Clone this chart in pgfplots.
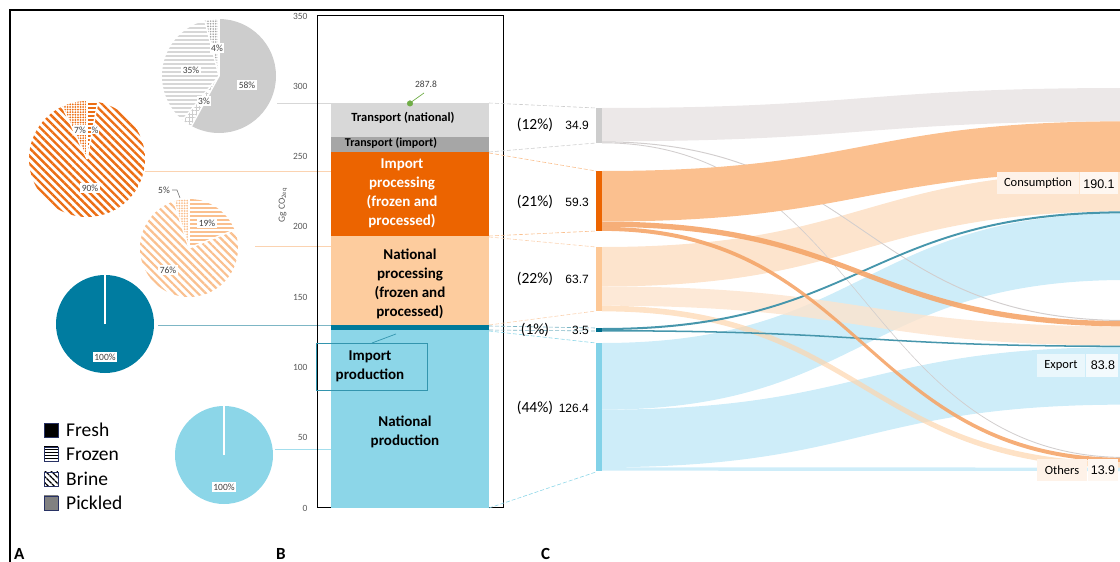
\documentclass[border=0pt]{standalone}
\usepackage{fontspec}
\setmainfont{Carlito}
\newfontfamily\arialf{Liberation Sans}
\usepackage{pgfplots}
\pgfplotsset{compat=1.18}
\usetikzlibrary{patterns,patterns.meta}

\definecolor{tickgrey}{RGB}{89,89,89}
\definecolor{labgrey}{RGB}{64,64,64}
\definecolor{cNPr}{RGB}{140,214,232}
\definecolor{cIPr}{RGB}{0,122,154}
\definecolor{cNP}{RGB}{253,204,158}
\definecolor{cIP}{RGB}{236,100,0}
\definecolor{cTI}{RGB}{166,166,166}
\definecolor{cTN}{RGB}{216,216,216}
\definecolor{dotgreen}{RGB}{112,173,71}
\definecolor{pGrey}{RGB}{205,205,205}
\definecolor{pGreyL}{RGB}{215,215,215}
\definecolor{pOr}{RGB}{236,110,20}
\definecolor{pLor}{RGB}{250,192,143}
\definecolor{pTeal}{RGB}{0,124,160}
\definecolor{pBlue}{RGB}{140,214,232}
\definecolor{fT}{RGB}{236,232,232}
\definecolor{fTl}{RGB}{210,206,206}
\definecolor{fIP}{RGB}{251,192,143}
\definecolor{fIPl}{RGB}{245,165,105}
\definecolor{fNP}{RGB}{253,228,205}
\definecolor{fIPr}{RGB}{70,150,172}
\definecolor{fNPr}{RGB}{206,237,249}
\definecolor{nT}{RGB}{205,205,205}
\definecolor{nIP}{RGB}{236,100,0}
\definecolor{nNP}{RGB}{253,200,150}
\definecolor{nIPr}{RGB}{0,110,140}
\definecolor{nNPr}{RGB}{130,210,232}
\definecolor{legb}{RGB}{40,50,100}
\definecolor{boxOr}{RGB}{254,242,232}
\definecolor{boxBl}{RGB}{234,247,252}

% wide-tile horizontal line patterns (no seams)
\pgfdeclarepatternformonly{hlinesA}{\pgfqpoint{-2pt}{0pt}}{\pgfqpoint{42pt}{4pt}}{\pgfqpoint{40pt}{4pt}}%
 {\pgfsetlinewidth{2pt}\pgfpathmoveto{\pgfqpoint{-2pt}{2pt}}\pgfpathlineto{\pgfqpoint{42pt}{2pt}}\pgfusepath{stroke}}
\pgfdeclarepatternformonly{hlinesB}{\pgfqpoint{-2pt}{0pt}}{\pgfqpoint{42pt}{3pt}}{\pgfqpoint{40pt}{3pt}}%
 {\pgfsetlinewidth{1.5pt}\pgfpathmoveto{\pgfqpoint{-2pt}{1.5pt}}\pgfpathlineto{\pgfqpoint{42pt}{1.5pt}}\pgfusepath{stroke}}

\newcommand\fs[1]{\fontsize{#1}{#1}\selectfont}
\tikzset{plab/.style={fill=white, inner sep=1.5pt, font=\fs{9.5}, text=labgrey}}

% pie slice: cx cy r startpct endpct style
\newcommand\slice[6]{\fill[#6] (axis cs:#1,#2) -- ++({90-3.6*(#4)}:#3pt) arc[start angle={90-3.6*(#4)}, end angle={90-3.6*(#5)}, radius=#3pt] -- cycle;}
\newcommand\sep[4]{\draw[white, line width=1.4pt] (axis cs:#1,#2) -- ++({90-3.6*(#4)}:#3pt);}

% sankey flow: name src snk value style
\def\skl{1.01}
\newcommand\mkflow[5]{%
 \pgfmathsetmacro\fya{\csname acc#2\endcsname}%
 \pgfmathsetmacro\fyb{\csname acc#3\endcsname}%
 \pgfmathsetmacro\fyaa{\fya+#4*\skl}%
 \pgfmathsetmacro\fybb{\fyb+#4*\skl}%
 \expandafter\xdef\csname acc#2\endcsname{\fyaa}%
 \expandafter\xdef\csname acc#3\endcsname{\fybb}%
 \expandafter\xdef\csname fl#1\endcsname{\noexpand\fill[#5] (axis cs:602,\fya) .. controls (axis cs:864,\fya) and (axis cs:864,\fyb) .. (axis cs:1126,\fyb) -- (axis cs:1126,\fybb) .. controls (axis cs:864,\fybb) and (axis cs:864,\fyaa) .. (axis cs:602,\fyaa) -- cycle;}%
}

\begin{document}
\begin{tikzpicture}
\path[use as bounding box] (0,0) rectangle (1120pt,562pt);
\clip (0,0) rectangle (1120pt,562pt);

% ---- Sankey data (Gg CO2eq) ----
\def\accT{108}\def\accIP{171}\def\accNP{247}\def\accIPr{328}\def\accNPr{343}
\def\accC{88}\def\accE{320}\def\accO{457}
\mkflow{TC}{T}{C}{33.0}{fill=fT}
\mkflow{TE}{T}{E}{1.0}{fill=fTl}
\mkflow{TO}{T}{O}{0.9}{fill=fTl}
\mkflow{IPC}{IP}{C}{50.0}{fill=fIP}
\mkflow{IPE}{IP}{E}{5.3}{fill=fIPl, fill opacity=0.9}
\mkflow{IPO}{IP}{O}{4.0}{fill=fIPl, fill opacity=0.9}
\mkflow{NPC}{NP}{C}{39.1}{fill=fNP}
\mkflow{NPE}{NP}{E}{19.0}{fill=fNP, fill opacity=0.8}
\mkflow{NPO}{NP}{O}{5.6}{fill=fNP!85!orange, fill opacity=0.7}
\mkflow{IPrC}{IPr}{C}{2.0}{fill=fIPr}
\mkflow{IPrE}{IPr}{E}{1.5}{fill=fIPr}
\mkflow{NPrC}{NPr}{C}{66.0}{fill=fNPr}
\mkflow{NPrE}{NPr}{E}{57.0}{fill=fNPr}
\mkflow{NPrO}{NPr}{O}{3.4}{fill=fNPr}
\pgfmathsetmacro\nTb{108+34.9*\skl}
\pgfmathsetmacro\nIPb{171+59.3*\skl}
\pgfmathsetmacro\nNPb{247+63.7*\skl}
\pgfmathsetmacro\nIPrb{328+3.5*\skl}
\pgfmathsetmacro\nNPrb{343+126.4*\skl}

% ---- canvas axis (pixel coordinates) ----
\begin{axis}[name=canvas, at={(0pt,0pt)}, anchor=south west, scale only axis,
  width=1120pt, height=562pt, xmin=0, xmax=1120, ymin=0, ymax=562,
  y dir=reverse, hide axis, clip=false]
\addplot[draw=none] coordinates {(0,0)};
% connectors pies -> bar
\draw[pGreyL, line width=0.8pt] (axis cs:277,103) -- (axis cs:331,103);
\draw[pLor!70, line width=0.8pt] (axis cs:145,171) -- (axis cs:331,171);
\draw[pLor!70, line width=0.8pt] (axis cs:255,246) -- (axis cs:331,246);
\draw[fIPr!70, line width=0.8pt] (axis cs:158,325) -- (axis cs:331,325);
\draw[cNPr!80, line width=0.8pt] (axis cs:275,449) -- (axis cs:331,449);
% pie: transport
\slice{219}{76}{57}{0}{58}{fill=pGrey}
\slice{219}{76}{57}{58}{61}{pattern={Hatch[distance=3.5pt,line width=0.9pt]}, pattern color=pGrey}
\slice{219}{76}{57}{61}{96}{pattern=hlinesA, pattern color=pGreyL}
\slice{219}{76}{57}{96}{100}{pattern={Dots[radius=0.9pt, distance=2.6pt]}, pattern color=pGrey!80!black}
\sep{219}{76}{57}{0}\sep{219}{76}{57}{58}\sep{219}{76}{57}{61}\sep{219}{76}{57}{96}
% pie: import processing
\slice{87}{159}{58}{0}{3}{pattern=hlinesA, pattern color=pOr}
\slice{87}{159}{58}{3}{93}{pattern={Lines[angle=-45, distance=5.5pt, line width=2.4pt]}, pattern color=pOr}
\slice{87}{159}{58}{93}{100}{pattern={Dots[radius=1pt, distance=2.6pt]}, pattern color=pOr}
\sep{87}{159}{58}{0}\sep{87}{159}{58}{3}\sep{87}{159}{58}{93}
% pie: national processing
\slice{189}{248}{49}{0}{19}{pattern=hlinesA, pattern color=pLor}
\slice{189}{248}{49}{19}{95}{pattern={Lines[angle=-45, distance=5.5pt, line width=2.2pt]}, pattern color=pLor}
\slice{189}{248}{49}{95}{100}{pattern={Dots[radius=1pt, distance=2.6pt]}, pattern color=pLor}
\sep{189}{248}{49}{0}\sep{189}{248}{49}{19}\sep{189}{248}{49}{95}
% pie: import production
\slice{105}{324}{49}{0}{100}{fill=pTeal}
\sep{105}{324}{49}{0}
% pie: national production
\slice{224}{455}{49}{0}{100}{fill=pBlue}
\sep{224}{455}{49}{0}
% sankey flows
\flNPrC \flNPrE \flNPrO
\flNPC \flNPE \flNPO
\flTC \flTE \flTO
\flIPC
\flIPrC \flIPrE
\flIPE \flIPO
% sankey source nodes
\fill[nT] (axis cs:596,108) rectangle (axis cs:602,\nTb);
\fill[nIP] (axis cs:596,171) rectangle (axis cs:602,\nIPb);
\fill[nNP] (axis cs:596,247) rectangle (axis cs:602,\nNPb);
\fill[nIPr] (axis cs:596,328) rectangle (axis cs:602,\nIPrb);
\fill[nNPr] (axis cs:596,343) rectangle (axis cs:602,\nNPrb);
\end{axis}

% ---- stacked bar (panel B) ----
\begin{axis}[at={(317pt,54pt)}, anchor=south west, scale only axis,
  width=186pt, height=492pt, xmin=-1, xmax=1, ymin=0, ymax=350,
  enlargelimits=false, ybar stacked, bar width=158pt,
  xtick=\empty, ytick={0,50,...,350}, major tick length=0pt,
  /pgf/number format/assume math mode=true,
  yticklabel style={font=\fs{9.5}, text=tickgrey, xshift=-6pt},
  axis line style={draw=black, line width=1pt}]
\addplot[fill=cNPr, draw=none] coordinates {(0,126.4)};
\addplot[fill=cIPr, draw=none] coordinates {(0,3.5)};
\addplot[fill=cNP, draw=none] coordinates {(0,63.7)};
\addplot[fill=cIP, draw=none] coordinates {(0,59.3)};
\addplot[fill=cTI, draw=none] coordinates {(0,10.7)};
\addplot[fill=cTN, draw=none] coordinates {(0,24.2)};
\end{axis}
\begin{axis}[at={(317pt,54pt)}, anchor=south west, scale only axis,
  width=186pt, height=492pt, xmin=-1, xmax=1, ymin=0, ymax=350,
  hide axis, clip=false]
\addplot[only marks, mark=*, mark size=2.8pt, color=dotgreen] coordinates {(0,287.8)};
\end{axis}

% ---- texts and decorations (pixel coordinates) ----
\begin{scope}[x=1pt, y=-1pt, shift={(0pt,562pt)}]
\draw[line width=2pt] (10,563) -- (10,10) -- (1121,10);
% dashed links bar -> sankey
\begin{scope}[line width=0.6pt, dash pattern=on 4pt off 2pt]
\draw[pGrey] (489,103) -- (596,108); \draw[pGrey] (489,152) -- (596,143);
\draw[pLor] (489,153) -- (596,171); \draw[pLor] (489,236) -- (596,231);
\draw[pLor!70] (489,237) -- (596,247); \draw[pLor!70] (489,325) -- (596,311);
\draw[fIPr!70] (489,326) -- (596,328); \draw[fIPr!70] (489,330) -- (596,331);
\draw[cNPr] (489,331) -- (596,343); \draw[cNPr] (489,508) -- (596,472);
\end{scope}
% y label
\node[rotate=90, font=\fs{9.5}, text=tickgrey] at (283,205) {Gg CO\textsubscript{2eq}};
% bar labels
\node[font=\fs{12.5}\bfseries] at (403,118) {Transport (national)};
\node[font=\fs{12}\bfseries] at (391,143) {Transport (import)};
\node[font=\fontsize{15}{19}\selectfont\bfseries, text=white, align=center] at (402,193) {Import\\processing\\(frozen and\\processed)};
\node[font=\fontsize{15}{19}\selectfont\bfseries, align=center] at (410,284) {National\\processing\\(frozen and\\processed)};
\draw[cIPr!80, line width=0.8pt] (316,343) rectangle (427,390);
\draw[cIPr!80, line width=0.7pt] (372,343) -- (396,334);
\node[font=\fontsize{15}{19}\selectfont\bfseries, align=center] at (370,366.5) {Import\\production};
\node[font=\fontsize{15}{19}\selectfont\bfseries, align=center] at (405,432) {National\\production};
\draw[dotgreen, line width=0.7pt] (410,103) -- (424,93);
\node[font=\fs{9.5}, text=labgrey] at (426,84) {287.8};
% pie labels
\node[plab] at (247,85) {58\%};
\node[plab] at (191,70) {35\%};
\node[plab] at (217,48) {4\%};
\node[plab] at (204,101) {3\%};
\node[plab] at (80,130) {7\%};
\node[plab, inner sep=0.5pt] at (95,130) {\%};
\node[plab] at (90,188) {90\%};
\node[plab] at (207,223) {19\%};
\node[plab] at (168,270) {76\%};
\node[font=\fs{9.5}, text=labgrey, fill=white, inner sep=1pt] at (164,190) {5\%};
\draw[labgrey!70, line width=0.6pt] (172,190) -- (177,190) -- (180,198);
\node[plab] at (105,357) {100\%};
\node[plab] at (224,487) {100\%};
% legend
\draw[legb, line width=0.8pt, fill=black] (44,423) rectangle (58,437);
\draw[legb, line width=0.8pt, pattern=hlinesB, pattern color=black] (44,447) rectangle (58,461);
\draw[legb, line width=0.8pt, pattern={Lines[angle=-45, distance=4pt, line width=1.6pt]}, pattern color=black] (44,472) rectangle (58,486);
\draw[legb, line width=0.8pt, pattern={Dots[radius=0.8pt, distance=2pt]}, pattern color=black] (44,496) rectangle (58,510);
\node[anchor=west, font=\fs{19.5}, inner sep=0] at (66,430) {Fresh};
\node[anchor=west, font=\fs{19.5}, inner sep=0] at (66,454) {Frozen};
\node[anchor=west, font=\fs{19.5}, inner sep=0] at (66,479) {Brine};
\node[anchor=west, font=\fs{19.5}, inner sep=0] at (66,503) {Pickled};
% sankey source labels
\node[font=\fs{15.5}] at (535,125) {(12\%)};
\node[font=\arialf\fs{12}, anchor=east, inner sep=0] at (589,125) {34.9};
\node[font=\fs{15.5}] at (535,202) {(21\%)};
\node[font=\arialf\fs{12}, anchor=east, inner sep=0] at (589,202) {59.3};
\node[font=\fs{15.5}] at (535,279) {(22\%)};
\node[font=\arialf\fs{12}, anchor=east, inner sep=0] at (589,279) {63.7};
\node[font=\fs{15.5}] at (535,330) {(1\%)};
\node[font=\arialf\fs{12}, anchor=east, inner sep=0] at (589,330) {3.5};
\node[font=\fs{15.5}] at (535,408) {(44\%)};
\node[font=\arialf\fs{12}, anchor=east, inner sep=0] at (589,408) {126.4};
% sankey sink labels
\fill[boxOr] (997,172) rectangle (1079,194);
\fill[boxOr!60] (1080,172) rectangle (1118,194);
\node[font=\fs{12.5}] at (1038,183) {Consumption};
\node[font=\arialf\fs{12.5}] at (1099,184) {190.1};
\fill[boxBl] (1037,354) rectangle (1085,377);
\fill[boxBl!60] (1086,354) rectangle (1118,377);
\node[font=\fs{12.5}] at (1061,365.5) {Export};
\node[font=\arialf\fs{12.5}] at (1103,365) {83.8};
\fill[boxOr] (1037,459) rectangle (1087,481);
\fill[boxOr!60] (1088,459) rectangle (1118,481);
\node[font=\fs{12.5}] at (1062,470) {Others};
\node[font=\arialf\fs{12.5}] at (1103,470) {13.9};
% panel letters
\node[anchor=base west, inner sep=0, font=\fs{17}\bfseries] at (14,560) {A};
\node[anchor=base west, inner sep=0, font=\fs{17}\bfseries] at (276,560) {B};
\node[anchor=base west, inner sep=0, font=\fs{17}\bfseries] at (541,560) {C};
\end{scope}
\end{tikzpicture}
\end{document}
